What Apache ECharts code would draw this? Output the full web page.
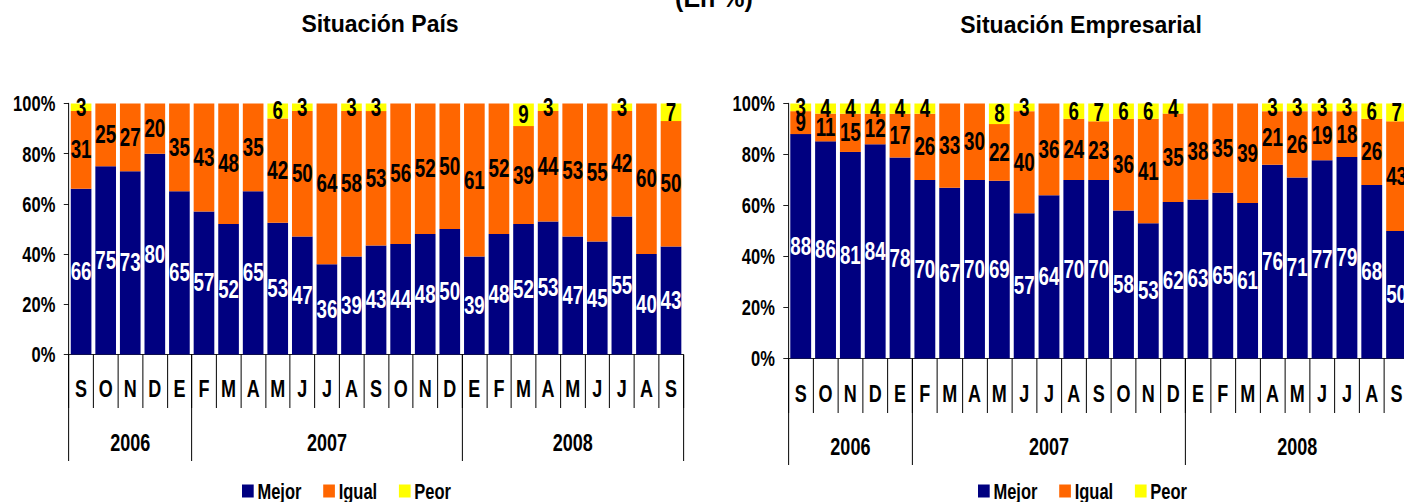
<!DOCTYPE html>
<html><head><meta charset="utf-8">
<script src="https://cdn.jsdelivr.net/npm/echarts@6/dist/echarts.min.js"></script>
<style>
html,body{margin:0;padding:0;width:1404px;height:502px;overflow:hidden;background:#fff;}
#chart{position:absolute;left:0;top:0;width:1890px;height:502px;transform:scaleX(0.75);transform-origin:0 0;}
#titles{position:absolute;left:0;top:0;width:1404px;height:502px;pointer-events:none;}
</style></head><body>
<div id="chart"></div><div id="titles"></div>
<script>
// ---------- data ----------
const months = ['S','O','N','D','E','F','M','A','M','J','J','A','S','O','N','D','E','F','M','A','M','J','J','A','S'];
const years = ['2006','2007','2008'];
const monthsPerYear = [5, 11, 9];
const seriesNames = ['Mejor', 'Igual', 'Peor'];
const yTicks = [0, 20, 40, 60, 80, 100];

const paisMejor = [66,75,73,80,65,57,52,65,53,47,36,39,43,44,48,50,39,48,52,53,47,45,55,40,43];
const paisIgual = [31,25,27,20,35,43,48,35,42,50,64,58,53,56,52,50,61,52,39,44,53,55,42,60,50];
const paisPeor  = [ 3, 0, 0, 0, 0, 0, 0, 0, 6, 3, 0, 3, 3, 0, 0, 0, 0, 0, 9, 3, 0, 0, 3, 0, 7];

const empMejor = [88,86,81,84,78,70,67,70,69,57,64,70,70,58,53,62,63,65,61,76,71,77,79,68,50];
const empIgual = [ 9,11,15,12,17,26,33,30,22,40,36,24,23,36,41,35,38,35,39,21,26,19,18,26,43];
const empPeor  = [ 3, 4, 4, 4, 4, 4, 0, 0, 8, 3, 0, 6, 7, 6, 6, 4, 0, 0, 0, 3, 3, 3, 3, 6, 7];

const titleLeft = 'Situación País';
const titleRight = 'Situación Empresarial';
const titleTop = '(En %)';

// ---------- helpers ----------
const F = '"Liberation Sans", Arial, sans-serif';
const S = 0.75; // horizontal condensation of the chart drawing
const W = 1890; // logical width of chart container
const colors = ['#000080', '#FF6600', '#FFFF00'];
const labelColors = ['#FFFFFF', '#000000', '#000000'];

const yearBounds = [0];
monthsPerYear.forEach(n => yearBounds.push(yearBounds[yearBounds.length - 1] + n));
const yearCenters = years.map((y, i) => (yearBounds[i] + yearBounds[i + 1]) / 2);

function normalize(parts) {
  return parts.map(arr => arr.map((v, i) => {
    const t = parts.reduce((s, a) => s + a[i], 0);
    return { value: v * 100 / t, raw: v };
  }));
}
const paisData = normalize([paisMejor, paisIgual, paisPeor]);
const empData = normalize([empMejor, empIgual, empPeor]);

function monthAxis(grid, sepLen, margin) {
  return {
    type: 'category', gridIndex: grid, data: months, position: 'bottom',
    axisLine: { show: true, onZero: false, lineStyle: { color: '#000', width: 1 } },
    axisTick: { show: true, interval: 0, length: sepLen, lineStyle: { color: '#000', width: 1.33 } },
    axisLabel: { interval: 0, margin: margin, color: '#000', fontSize: 24, fontWeight: 'bold', fontFamily: F },
    splitLine: { show: false }
  };
}
function yearAxis(grid, sepLen, margin) {
  return {
    type: 'value', gridIndex: grid, min: 0, max: yearBounds[yearBounds.length - 1], position: 'bottom',
    axisLine: { show: false, onZero: false },
    splitLine: { show: false },
    axisTick: { show: true, customValues: yearBounds, length: sepLen, lineStyle: { color: '#000', width: 1.33 } },
    axisLabel: {
      show: true, customValues: yearCenters, margin: margin,
      formatter: v => { const k = yearCenters.indexOf(v); return k >= 0 ? years[k] : ''; },
      color: '#000', fontSize: 24, fontWeight: 'bold', fontFamily: F
    }
  };
}
function yAxis(grid) {
  return {
    type: 'value', gridIndex: grid, min: 0, max: 100, interval: 20,
    axisLine: { show: true, lineStyle: { color: '#000', width: 1.33 } },
    axisTick: { show: true, length: 6.7, lineStyle: { color: '#000', width: 1 } },
    axisLabel: { formatter: '{value}%', margin: 18, color: '#000', fontSize: 22, fontWeight: 'bold', fontFamily: F },
    splitLine: { show: false }
  };
}
function barSeries(data, chartIdx) {
  return data.map((d, k) => ({
    type: 'bar', name: seriesNames[k], xAxisIndex: chartIdx * 2, yAxisIndex: chartIdx,
    stack: 'c' + chartIdx, barCategoryGap: '16%', data: d,
    itemStyle: { color: colors[k] },
    label: {
      show: true, position: 'inside', color: labelColors[k], textBorderWidth: 0,
      fontSize: 25, fontWeight: 'bold', fontFamily: F,
      formatter: p => (p.data.raw ? String(p.data.raw) : '')
    },
    emphasis: { disabled: true }
  }));
}
function legend(leftPx) {
  return {
    data: seriesNames, left: leftPx / S, top: 480, orient: 'horizontal', padding: 0,
    icon: 'rect', itemWidth: 15.6, itemHeight: 13, itemGap: 29, selectedMode: false,
    textStyle: { fontSize: 22, fontWeight: 'bold', color: '#000', fontFamily: F }
  };
}

// screen-pixel layout converted to logical units
const leftGrid = { left: 68.8 / S, right: W - 683.3 / S, top: 103.5, bottom: 502 - 354.5, outerBoundsMode: 'none', containLabel: false };
const rightGrid = { left: 788.3 / S, right: W - 1409 / S, top: 103.5, bottom: 502 - 358.5, outerBoundsMode: 'none', containLabel: false };

const chart = echarts.init(document.getElementById('chart'), null, { renderer: 'svg' });
chart.setOption({
  animation: false,
  backgroundColor: 'transparent',
  grid: [leftGrid, rightGrid],
  xAxis: [monthAxis(0, 53.5, 22), yearAxis(0, 106.5, 76), monthAxis(1, 54.5, 23), yearAxis(1, 106.5, 76.5)],
  yAxis: [yAxis(0), yAxis(1)],
  legend: [legend(242), legend(978)],
  series: [...barSeries(paisData, 0), ...barSeries(empData, 1)]
});

const titles = echarts.init(document.getElementById('titles'), null, { renderer: 'svg' });
const tStyle = { fontSize: 23, fontWeight: 'bold', color: '#000', fontFamily: F };
titles.setOption({
  animation: false,
  backgroundColor: 'transparent',
  title: [
    { text: titleTop, left: 714, top: -2, textAlign: 'center', textVerticalAlign: 'middle', padding: 0, textStyle: Object.assign({}, tStyle, { fontSize: 25 }) },
    { text: titleLeft, left: 380, top: 24, textAlign: 'center', textVerticalAlign: 'middle', padding: 0, textStyle: tStyle },
    { text: titleRight, left: 1081, top: 25, textAlign: 'center', textVerticalAlign: 'middle', padding: 0, textStyle: tStyle }
  ]
});
</script>
</body></html>
